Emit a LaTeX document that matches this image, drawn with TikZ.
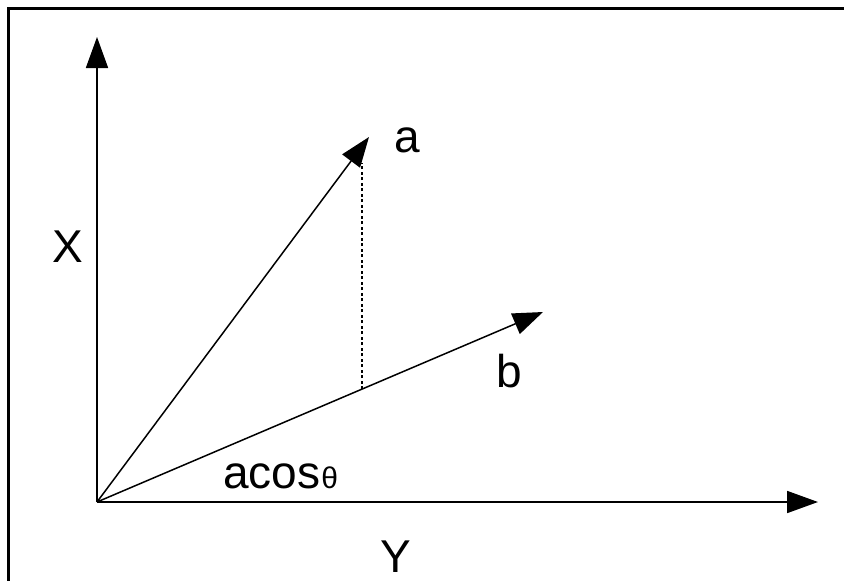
\documentclass[tikz,border=0pt]{standalone}
\usepackage{fontspec}
\setmainfont{Liberation Sans}
\usetikzlibrary{arrows.meta}
\begin{document}
\begin{tikzpicture}[x=1pt,y=-1pt,
  vec/.style={line width=1.5pt,-{Triangle[length=30pt,width=22pt]}},
  axis/.style={line width=1.8pt,-{Triangle[length=31pt,width=22pt]}},
  lbl/.style={inner sep=0pt,font=\fontsize{46}{50}\selectfont},
  frameline/.style={line width=3pt}]
\useasboundingbox (0,0) rectangle (844,581);
\draw[frameline] (8.5,590) -- (8.5,8.5) -- (850,8.5);
\coordinate (O) at (97,502);
\coordinate (xt) at (97,37);
\coordinate (yt) at (818,502);
\coordinate (at) at (369,137);
\coordinate (bt) at (543,312);
\coordinate (dtop) at (362,163);
\coordinate (dfoot) at (362,389);
\draw[axis] (O) -- (xt);
\draw[axis] (O) -- (yt);
\draw[vec] (O) -- (at);
\draw[vec] (O) -- (bt);
\draw[line width=1.2pt,dash pattern=on 3pt off 2.5pt] (dfoot) -- (dtop);
\node[lbl,anchor=base west] (la) at (394,152) {a};
\node[lbl,anchor=base west] (lb) at (496,387) {b};
\node[lbl,anchor=base] (lx) at (67.5,262) {X};
\node[lbl,anchor=base] (ly) at (396,572) {Y};
\node[lbl,anchor=base west] (lac) at (223,488) {acos\kern1pt{\fontsize{30}{32}\selectfont θ}};
\end{tikzpicture}
\end{document}
